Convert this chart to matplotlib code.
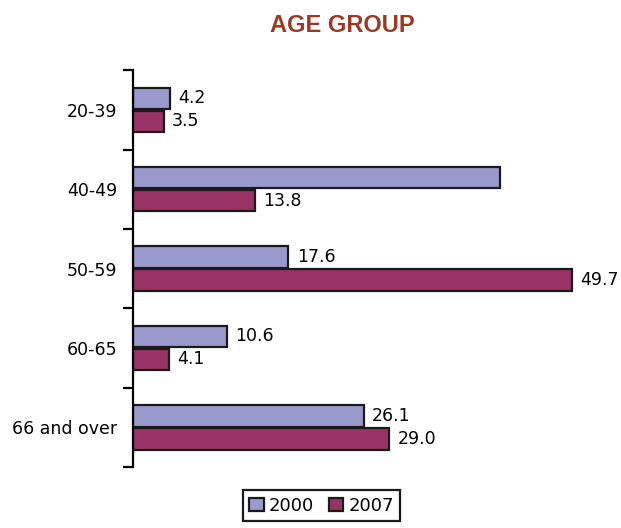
import numpy as np
import matplotlib
matplotlib.use("Agg")
import matplotlib.pyplot as plt

groups = ["20-39", "40-49", "50-59", "60-65", "66 and over"]
share_2000 = [4.2, 41.5, 17.6, 10.6, 26.1]
share_2007 = [3.5, 13.8, 49.7, 4.1, 29.0]
# the 40-49 bar for 2000 carries no value label
label_2000 = [True, False, True, True, True]

plt.rcParams["font.family"] = ["DejaVu Sans"]

fig = plt.figure(figsize=(6.21, 5.28), dpi=100)
ax = fig.add_axes([0.214, 0.1155, 0.783, 0.7515])

y = np.arange(len(groups))
h = 0.27
b1 = ax.barh(y - 0.145, share_2000, height=h, color="#9999CC",
             edgecolor="#1a1a1a", linewidth=1.6, label="2000")
b2 = ax.barh(y + 0.145, share_2007, height=h, color="#993366",
             edgecolor="#1a1a1a", linewidth=1.6, label="2007")

for bar, v, show in zip(b1, share_2000, label_2000):
    if show:
        ax.annotate(f"{v:.1f}", (v, bar.get_y() + bar.get_height() / 2),
                    xytext=(6, 0), textcoords="offset points",
                    va="center", ha="left", fontsize=12.5)
for bar, v in zip(b2, share_2007):
    ax.annotate(f"{v:.1f}", (v, bar.get_y() + bar.get_height() / 2),
                xytext=(6, 0), textcoords="offset points",
                va="center", ha="left", fontsize=12.5)

ax.set_xlim(0, 55)
ax.set_ylim(len(groups) - 0.5, -0.5)
ax.set_yticks(np.arange(-0.5, len(groups)), [])
ax.set_yticks(y, groups, minor=True)
ax.tick_params(axis="y", which="major", length=7, width=1.6, direction="out")
ax.tick_params(axis="y", which="minor", length=0, pad=11, labelsize=12.5)
ax.set_xticks([])
for s in ["top", "right", "bottom"]:
    ax.spines[s].set_visible(False)
ax.spines["left"].set_linewidth(1.6)

fig.text(0.551, 0.951, "AGE GROUP", ha="center", va="center",
         fontsize=17, fontweight="bold", color="#9B3A24",
         family=["Liberation Sans", "DejaVu Sans"])

leg = fig.legend(loc="lower center", bbox_to_anchor=(0.518, -0.004), ncol=2,
                 fontsize=13, frameon=True, fancybox=False, framealpha=1,
                 handlelength=0.8, handleheight=0.8, handletextpad=0.3,
                 columnspacing=0.8, borderpad=0.35)
leg.get_frame().set_edgecolor("#1a1a1a")
leg.get_frame().set_linewidth(1.6)

fig.savefig("out.png", dpi=100)
